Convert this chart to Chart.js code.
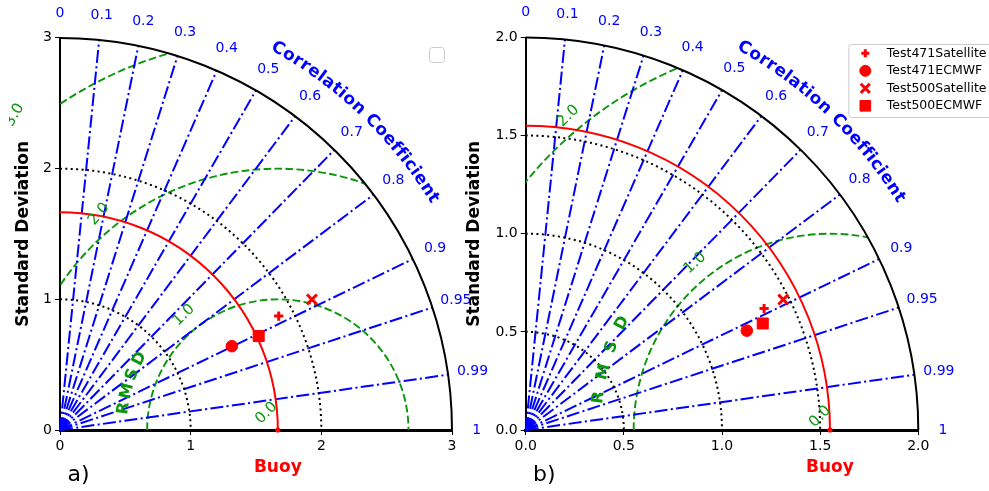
<!DOCTYPE html>
<html>
<head>
<meta charset="utf-8">
<script src="https://cdn.jsdelivr.net/npm/chart.js@4/dist/chart.umd.min.js"></script>
<style>
  html, body { margin: 0; padding: 0; background: #fff; }
  #wrap { position: relative; width: 989px; height: 491px; overflow: hidden; }
  .pane { position: absolute; top: 0; height: 491px; }
  #pa { left: 0; width: 490px; }
  #pb { left: 440px; width: 549px; }
</style>
</head>
<body>
<div id="wrap">
  <div class="pane" id="pa"><canvas id="chartA"></canvas></div>
  <div class="pane" id="pb"><canvas id="chartB"></canvas></div>
</div>
<script>
"use strict";

// series names and marker styles
const modelNames = ["Test471Satellite", "Test471ECMWF", "Test500Satellite", "Test500ECMWF"];
const markerStyles = ["cross", "circle", "crossRot", "rect"];

// panel a) standard deviation + correlation of each model
const stdA = [1.887, 1.463, 2.171, 1.682];
const corrA = [0.887, 0.899, 0.888, 0.904];
const refStdA = 1.667;

// panel b)
const stdB = [1.363, 1.235, 1.471, 1.324];
const corrB = [0.891, 0.912, 0.892, 0.912];
const refStdB = 1.55;

// correlation ticks on the outer arc
const corrTicks = [0, 0.1, 0.2, 0.3, 0.4, 0.5, 0.6, 0.7, 0.8, 0.9, 0.95, 0.99, 1];
const corrTickLabels = ["0", "0.1", "0.2", "0.3", "0.4", "0.5", "0.6", "0.7", "0.8", "0.9", "0.95", "0.99", "1"];

// std arcs and RMSD contours
const stdArcsA = [1, 2];
const stdArcsB = [0.5, 1.0, 1.5];
const rmsLevelsA = [1, 2, 3];
const rmsLevelsB = [1, 2];
const rmsLabelsA = ["0.0", "1.0", "2.0", "3.0"];
const rmsLabelsB = ["0.0", "1.0", "2.0"];

const FONT = "'DejaVu Sans', sans-serif";
const GREEN = "#0c960c";
const BLUE = "#0000ff";
const RED = "#ff0000";

// marker look
const markerRadius = { cross: 4.6, circle: 5.8, crossRot: 7, rect: 7.8 };
const markerBorder = { cross: 3, circle: 1, crossRot: 3, rect: 1 };

function drawMarker(ctx, style, r, bw, px, py) {
  if (Chart.helpers && Chart.helpers.drawPoint) {
    ctx.fillStyle = RED;
    ctx.strokeStyle = RED;
    ctx.lineWidth = bw;
    ctx.setLineDash([]);
    Chart.helpers.drawPoint(ctx, { pointStyle: style, radius: r, borderWidth: bw }, px, py);
  }
}

function rotRectPath(ctx, cx, cy, w, h, deg) {
  const a = deg * Math.PI / 180, c = Math.cos(a), s = Math.sin(a);
  const pts = [[-w / 2, -h / 2], [w / 2, -h / 2], [w / 2, h / 2], [-w / 2, h / 2]];
  pts.forEach((p, i) => {
    const px = cx + p[0] * c - p[1] * s, py = cy + p[0] * s + p[1] * c;
    if (i === 0) ctx.moveTo(px, py); else ctx.lineTo(px, py);
  });
  ctx.closePath();
}

const taylorPlugin = {
  id: "taylor",
  beforeDatasetsDraw(chart, args, o) {
    const { ctx, scales: { x, y } } = chart;
    const X = v => x.getPixelForValue(v), Y = v => y.getPixelForValue(v);
    const ox = X(0), oy = Y(0);
    const R = v => X(v) - ox;
    const rMax = R(o.maxStd);

    ctx.save();
    // RMSD contours (clipped to the quarter disk, gaps at their labels)
    ctx.save();
    ctx.beginPath();
    ctx.moveTo(ox, oy);
    ctx.arc(ox, oy, rMax, 0, -Math.PI / 2, true);
    ctx.closePath();
    ctx.clip();
    ctx.beginPath();
    ctx.rect(0, 0, chart.width, chart.height);
    ctx.font = "15px " + FONT;
    o.rmsLabelPos.forEach((p, i) => {
      const w = ctx.measureText(o.rmsLabels[i]).width + 4;
      rotRectPath(ctx, X(p[0]), Y(p[1]), w, 13, p[2]);
    });
    ctx.clip("evenodd");
    ctx.strokeStyle = GREEN;
    ctx.lineWidth = 1.9;
    ctx.setLineDash([7.7, 3.3]);
    o.rmsLevels.forEach(r => {
      ctx.beginPath();
      ctx.arc(X(o.refStd), oy, R(r), Math.PI, 2 * Math.PI, false);
      ctx.stroke();
    });
    ctx.restore();

    // correlation rays
    ctx.strokeStyle = BLUE;
    ctx.lineWidth = 2;
    ctx.setLineDash([13, 3.3, 2.1, 3.3]);
    corrTicks.forEach(c => {
      if (c <= 0 || c >= 1) return;
      const s = Math.sqrt(1 - c * c);
      ctx.beginPath();
      ctx.moveTo(ox, oy);
      ctx.lineTo(X(o.maxStd * c), Y(o.maxStd * s));
      ctx.stroke();
    });

    // std dotted arcs
    ctx.strokeStyle = "#000";
    ctx.lineWidth = 2;
    ctx.setLineDash([2, 3.4]);
    o.stdArcs.forEach(s => {
      ctx.beginPath();
      ctx.arc(ox, oy, R(s), -Math.PI / 2, 0, false);
      ctx.stroke();
    });

    // reference arc
    ctx.setLineDash([]);
    ctx.strokeStyle = RED;
    ctx.lineWidth = 2;
    ctx.beginPath();
    ctx.arc(ox, oy, R(o.refStd), -Math.PI / 2, 0, false);
    ctx.stroke();
    ctx.fillStyle = RED;
    ctx.beginPath();
    ctx.arc(X(o.refStd), oy, 2.6, 0, 2 * Math.PI);
    ctx.fill();

    // outer arc
    ctx.strokeStyle = "#000";
    ctx.lineWidth = 2;
    ctx.beginPath();
    ctx.arc(ox, oy, rMax, -Math.PI / 2, 0, false);
    ctx.stroke();

    // correlation tick labels
    ctx.fillStyle = BLUE;
    ctx.font = "14px " + FONT;
    ctx.textAlign = "center";
    ctx.textBaseline = "middle";
    corrTicks.forEach((c, i) => {
      const s = Math.sqrt(1 - c * c);
      const rr = rMax * 1.063;
      ctx.fillText(corrTickLabels[i], ox + rr * c, oy - rr * s);
    });

    // curved "Correlation Coefficient"
    ctx.font = "bold 17px " + FONT;
    const title = "Correlation Coefficient";
    const rt = rMax * 1.12;
    const spacing = 1.05;
    const widths = [...title].map(ch => ctx.measureText(ch).width * spacing);
    const total = widths.reduce((a, b) => a + b, 0);
    let ang = 46.2 * Math.PI / 180 + total / 2 / rt;
    [...title].forEach((ch, i) => {
      const a = ang - widths[i] / 2 / rt;
      ctx.save();
      ctx.translate(ox + rt * Math.cos(a), oy - rt * Math.sin(a));
      ctx.rotate(Math.PI / 2 - a);
      ctx.fillText(ch, 0, 0);
      ctx.restore();
      ang -= widths[i] / rt;
    });

    // RMSD contour labels (the page is cut at the left edge)
    ctx.save();
    ctx.beginPath();
    ctx.rect(9, 0, chart.width, chart.height);
    ctx.clip();
    ctx.fillStyle = GREEN;
    ctx.font = "15px " + FONT;
    o.rmsLabelPos.forEach((p, i) => {
      ctx.save();
      ctx.translate(X(p[0]), Y(p[1]));
      ctx.rotate(p[2] * Math.PI / 180);
      ctx.fillText(o.rmsLabels[i], 0, 0);
      ctx.restore();
    });
    ctx.restore();

    // curved "RMSD"
    ctx.fillStyle = GREEN;
    ctx.font = "bold 16px " + FONT;
    ["R", "M", "S", "D"].forEach((ch, i) => {
      const th = (172 - i * 6.4) * Math.PI / 180;
      const rr = 1.19;
      ctx.save();
      ctx.translate(X(o.refStd + rr * Math.cos(th)), Y(rr * Math.sin(th)));
      ctx.rotate(Math.PI / 2 - th);
      ctx.fillText(ch, 0, 0);
      ctx.restore();
    });

    // x title at the reference std
    ctx.fillStyle = RED;
    ctx.font = "bold 17px " + FONT;
    ctx.fillText("Buoy", X(o.refStd), oy + 38);

    // panel letter
    ctx.fillStyle = "#000";
    ctx.font = "22px " + FONT;
    ctx.fillText(o.panel, chart.chartArea.left + 18.5, oy + 45);
    ctx.restore();
  },
  afterDraw(chart, args, o) {
    const { ctx, chartArea: ca } = chart;
    ctx.save();
    ctx.setLineDash([]);
    if (!o.legend) {
      // empty legend box
      ctx.fillStyle = "rgba(255,255,255,0.8)";
      ctx.strokeStyle = "#cccccc";
      ctx.lineWidth = 1;
      ctx.beginPath();
      ctx.roundRect(ca.right - 22.5, 47.5, 15, 15, 3);
      ctx.fill();
      ctx.stroke();
    } else {
      const left = ca.right - 70;
      ctx.fillStyle = "rgba(255,255,255,0.8)";
      ctx.strokeStyle = "#cccccc";
      ctx.lineWidth = 1;
      ctx.beginPath();
      ctx.roundRect(left + 0.5, 44.5, 170, 73, 3);
      ctx.fill();
      ctx.stroke();
      ctx.font = "12.5px " + FONT;
      ctx.textAlign = "left";
      ctx.textBaseline = "middle";
      chart.data.datasets.forEach((ds, i) => {
        const yy = 53.3 + i * 17.5;
        const st = ds.pointStyle;
        const r = { cross: 4, circle: 5.5, crossRot: 6.4, rect: 7.5 }[st];
        drawMarker(ctx, st, r, markerBorder[st], left + 17, yy);
        ctx.fillStyle = "#000";
        ctx.fillText(ds.label, left + 38.5, yy);
      });
    }
    ctx.restore();
  }
};

function makeChart(id, std, corr, refStd, maxStd, step, fmt, yTitlePad, opts) {
  const datasets = modelNames.map((name, i) => {
    const st = markerStyles[i];
    return {
      label: name,
      data: [{ x: std[i] * corr[i], y: std[i] * Math.sqrt(1 - corr[i] * corr[i]) }],
      pointStyle: st,
      pointRadius: markerRadius[st],
      pointHoverRadius: markerRadius[st],
      pointBorderWidth: markerBorder[st],
      backgroundColor: RED,
      borderColor: RED
    };
  });
  const tickFont = { family: FONT, size: 14 };
  return new Chart(document.getElementById(id), {
    type: "scatter",
    data: { datasets: datasets },
    options: {
      responsive: true,
      maintainAspectRatio: false,
      animation: false,
      layout: { padding: opts.padding },
      scales: {
        x: {
          type: "linear", min: 0, max: maxStd, position: "bottom",
          ticks: { stepSize: step, color: "#000", font: tickFont, padding: 3, maxRotation: 0, callback: fmt },
          grid: { display: true, drawOnChartArea: false, drawTicks: true, tickLength: 5, tickColor: "#000" },
          border: { display: true, color: "#000", width: 3 },
          afterFit(s) { s.height = 61; }
        },
        y: {
          type: "linear", min: 0, max: maxStd, position: "left",
          ticks: { stepSize: step, color: "#000", font: tickFont, padding: 3, callback: fmt },
          grid: { display: true, drawOnChartArea: false, drawTicks: true, tickLength: 5, tickColor: "#000" },
          border: { display: true, color: "#000", width: 2 },
          title: {
            display: true, text: "Standard Deviation", color: "#000",
            font: { family: FONT, size: 17, weight: "bold" },
            padding: { top: yTitlePad, bottom: 0 }
          },
          afterFit(s) { s.width = opts.yWidth; }
        }
      },
      plugins: {
        legend: { display: false },
        tooltip: { enabled: false },
        taylor: {
          refStd: refStd, maxStd: maxStd, stdArcs: opts.stdArcs,
          rmsLevels: opts.rmsLevels, rmsLabels: opts.rmsLabels, rmsLabelPos: opts.rmsLabelPos,
          panel: opts.panel, legend: opts.legend
        }
      }
    },
    plugins: [taylorPlugin]
  });
}

makeChart("chartA", stdA, corrA, refStdA, 3, 1, v => String(v), 13.3, {
  padding: { left: 0, right: 38, top: 37.7, bottom: 0 },
  yWidth: 60,
  stdArcs: stdArcsA,
  rmsLevels: rmsLevelsA,
  rmsLabels: rmsLabelsA,
  rmsLabelPos: [[1.58, 0.13, -45], [0.948, 0.879, -44], [0.298, 1.651, -50], [-0.347, 2.408, -60]],
  panel: "a)",
  legend: false
});

makeChart("chartB", stdB, corrB, refStdB, 2, 0.5, v => v.toFixed(1), 24.8, {
  padding: { left: 0, right: 70.7, top: 37.7, bottom: 0 },
  yWidth: 85.7,
  stdArcs: stdArcsB,
  rmsLevels: rmsLevelsB,
  rmsLabels: rmsLabelsB,
  rmsLabelPos: [[1.50, 0.068, -45], [0.863, 0.851, -42], [0.217, 1.601, -45]],
  panel: "b)",
  legend: true
});
</script>
</body>
</html>
